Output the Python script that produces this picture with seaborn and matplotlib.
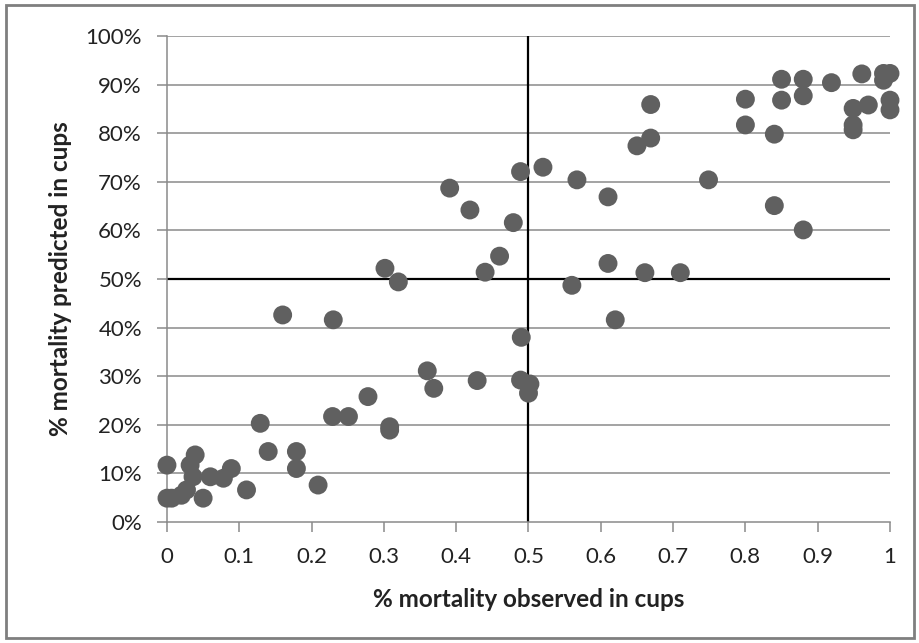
import matplotlib
matplotlib.use("Agg")
import matplotlib.pyplot as plt
import seaborn as sns
import pandas as pd
from matplotlib.patches import Rectangle
from matplotlib.ticker import PercentFormatter, MultipleLocator

observed = [0.0, 0.0, 0.0065, 0.02, 0.027, 0.039, 0.032, 0.036, 0.05, 0.06,
            0.078, 0.089, 0.11, 0.129, 0.14, 0.179, 0.179, 0.209, 0.229, 0.251,
            0.278, 0.308, 0.308, 0.16, 0.23, 0.3015, 0.32, 0.36, 0.369, 0.429,
            0.44, 0.46, 0.49, 0.489, 0.502, 0.50, 0.391, 0.419, 0.479, 0.489,
            0.52, 0.567, 0.56, 0.61, 0.61, 0.62, 0.65, 0.661, 0.669, 0.669,
            0.71, 0.749, 0.80, 0.80, 0.84, 0.84, 0.85, 0.85, 0.88, 0.88,
            0.88, 0.919, 0.961, 0.949, 0.949, 0.949, 0.97, 0.991, 1.0, 0.991,
            1.0, 1.0]
predicted = [0.117, 0.049, 0.049, 0.055, 0.066, 0.138, 0.117, 0.093, 0.049, 0.093,
             0.090, 0.110, 0.066, 0.203, 0.145, 0.145, 0.110, 0.076, 0.217, 0.217,
             0.258, 0.189, 0.196, 0.426, 0.416, 0.522, 0.494, 0.311, 0.275, 0.291,
             0.514, 0.547, 0.380, 0.292, 0.284, 0.265, 0.687, 0.642, 0.616, 0.721,
             0.730, 0.704, 0.487, 0.669, 0.532, 0.416, 0.774, 0.513, 0.859, 0.790,
             0.513, 0.704, 0.870, 0.817, 0.798, 0.651, 0.911, 0.868, 0.911, 0.877,
             0.601, 0.904, 0.922, 0.851, 0.817, 0.807, 0.858, 0.923, 0.923, 0.909,
             0.868, 0.848]

x_ticks = [0.0, 0.1, 0.2, 0.3, 0.4, 0.5, 0.6, 0.7, 0.8, 0.9, 1.0]
x_tick_labels = ["0", "0.1", "0.2", "0.3", "0.4", "0.5", "0.6", "0.7", "0.8", "0.9", "1"]

df = pd.DataFrame({"observed": observed, "predicted": predicted})

sns.set_style("white")
plt.rcParams["font.family"] = ["Lato", "DejaVu Sans"]

fig = plt.figure(figsize=(9.2, 6.43), dpi=100)
ax = fig.add_axes([0.1815, 0.1882, 0.7859, 0.7558])

grid_c = "#8a8a8a"
ax.set_xlim(0, 1)
ax.set_ylim(0, 1)
ax.yaxis.set_major_locator(MultipleLocator(0.1))
for yv in [i / 10 for i in range(1, 11)]:
    ax.axhline(yv, color=grid_c, lw=1.1, zorder=0)

ax.axvline(0.5, color="black", lw=1.6, zorder=1)
ax.axhline(0.5, color="black", lw=1.6, zorder=1)

sns.scatterplot(data=df, x="observed", y="predicted", ax=ax, s=185,
                color="#606060", edgecolor="none", linewidth=0, zorder=3,
                clip_on=False, legend=False)

ax.yaxis.set_major_formatter(PercentFormatter(1.0, decimals=0))
ax.set_xticks(x_ticks)
ax.set_xticklabels(x_tick_labels)

for s in ["top", "right"]:
    ax.spines[s].set_visible(False)
ax.spines["left"].set_color(grid_c)
ax.spines["bottom"].set_color(grid_c)
ax.spines["left"].set_linewidth(1.1)
ax.spines["bottom"].set_linewidth(1.1)
ax.tick_params(axis="x", direction="out", length=7, width=1.1, color=grid_c,
               labelsize=16, pad=11, labelcolor="#222222")
ax.tick_params(axis="y", direction="out", length=7, width=1.1, color=grid_c,
               labelsize=16, pad=11, labelcolor="#222222")
ax.tick_params(axis="both", bottom=True, left=True)

ax.set_xlabel("% mortality observed in cups", fontsize=17.5, fontweight="bold",
              labelpad=15, color="#222222")
ax.set_ylabel("% mortality predicted in cups", fontsize=17.5, fontweight="bold",
              labelpad=10, color="#222222")

fig.patches.append(Rectangle((0.006, 0.008), 0.988, 0.985, transform=fig.transFigure,
                             fill=False, edgecolor="#7f7f7f", lw=2))

fig.savefig("out.png", dpi=100)
